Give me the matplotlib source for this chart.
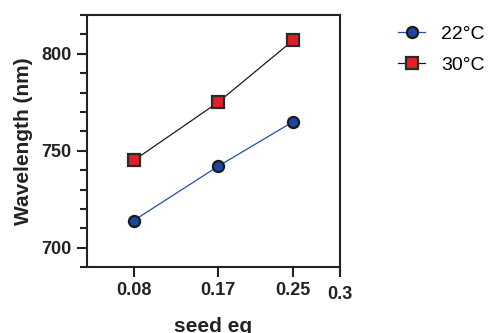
import matplotlib
matplotlib.use("Agg")
import matplotlib.pyplot as plt
from matplotlib.transforms import ScaledTranslation

plt.rcParams['font.family'] = ['Liberation Sans', 'DejaVu Sans']

# data
seed_eq = [0.08, 0.17, 0.25]
wl_22 = [714, 742, 765]
wl_30 = [745, 775, 807]
x_ticks = [0.08, 0.17, 0.25, 0.3]
x_ticklabels = ["0.08", "0.17", "0.25", "0.3"]
y_ticks = [700, 750, 800]

fig = plt.figure(figsize=(4.88, 3.33), dpi=100)
ax = fig.add_axes([0.178, 0.198, 0.519, 0.757])

l22, = ax.plot(seed_eq, wl_22, color="#1f4fa8", lw=0.9, marker="o", ms=8,
               mfc="#1a47a0", mec="#1a1a1a", mew=1.6, label="22°C")
l30, = ax.plot(seed_eq, wl_30, color="#1a1a1a", lw=0.9, marker="s", ms=8,
               mfc="#e31e24", mec="#2a2a2a", mew=1.6, label="30°C")

ax.set_xlim(0.03, 0.3)
ax.set_ylim(690, 820)
ax.set_xticks(x_ticks)
ax.set_xticklabels(x_ticklabels)
ax.set_yticks(y_ticks)
ax.set_yticks(range(690, 821, 10), minor=True)

for s in ax.spines.values():
    s.set_linewidth(1.5)
    s.set_color("#222222")
ax.tick_params(which="major", length=7, width=1.5, color="#222222",
               labelsize=13, pad=4)
ax.tick_params(which="minor", length=5, width=1.5, color="#222222")
for lab in ax.get_xticklabels() + ax.get_yticklabels():
    lab.set_fontweight("bold")
    lab.set_color("#222222")

# the last x tick label sits a little lower in the original
last = ax.get_xticklabels()[-1]
last.set_transform(last.get_transform() + ScaledTranslation(0, -0.04, fig.dpi_scale_trans))

ax.set_xlabel("seed eq", fontsize=15, fontweight="bold", color="#222222", labelpad=10)
ax.set_ylabel("Wavelength (nm)", fontsize=15, fontweight="bold", color="#222222", labelpad=6)

fig.legend(handles=[l22, l30], loc="upper left", bbox_to_anchor=(0.78, 0.977),
           frameon=False, fontsize=14, handlelength=1.4, labelspacing=0.7,
           handletextpad=0.8)

fig.savefig("out.png", dpi=100)
